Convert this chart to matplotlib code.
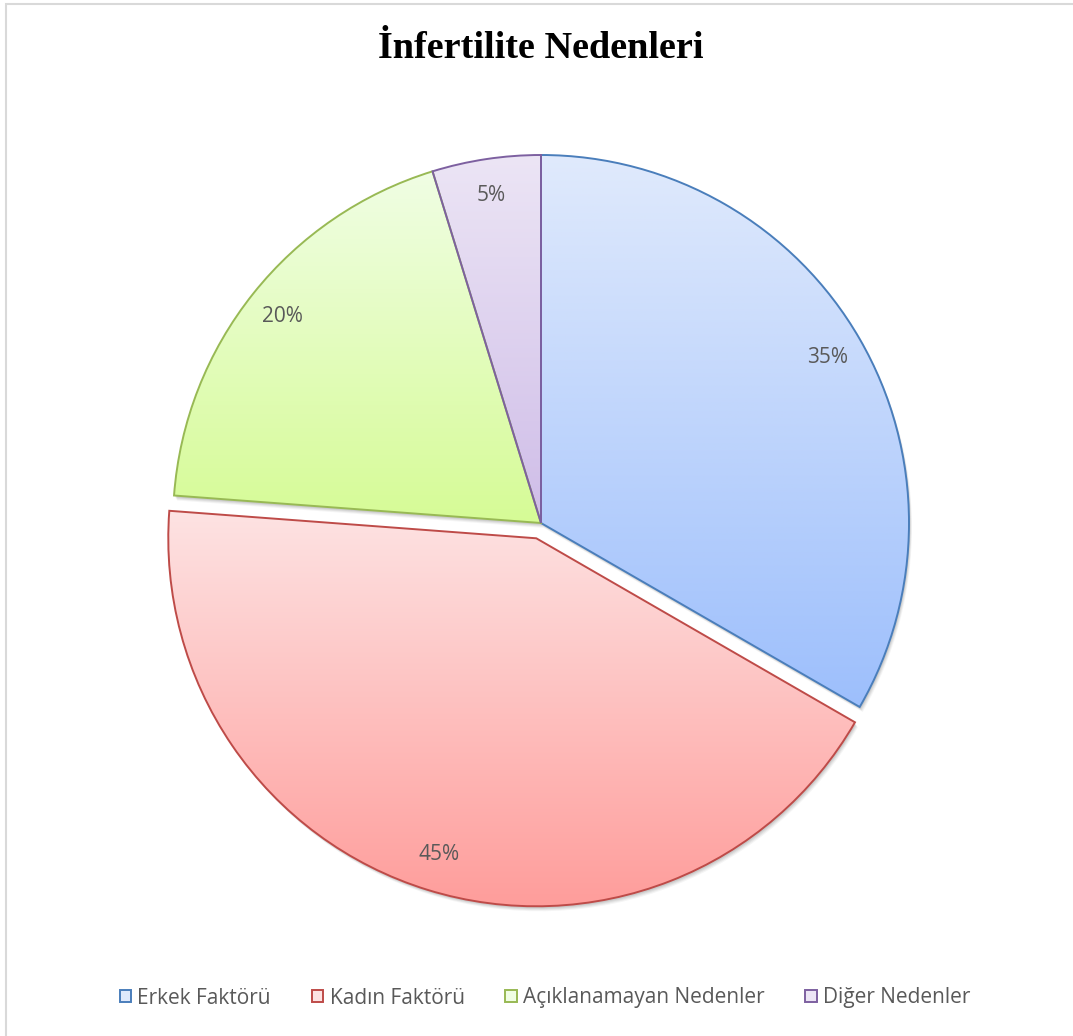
"""Infertility causes pie chart with Excel-style gradient slices."""

import matplotlib.pyplot as plt
import numpy as np
from matplotlib.colors import LinearSegmentedColormap
from matplotlib.patches import Patch, Rectangle, Wedge

labels = ["Erkek Faktörü", "Kadın Faktörü", "Açıklanamayan Nedenler", "Diğer Nedenler"]
values = [35, 45, 20, 5]
explode_px = [0, 16, 0, 0]

# light (top) / dark (bottom) gradient stops and outline colour per slice
top_colors = ["#e0eafc", "#fde3e3", "#f0fee4", "#ece5f5"]
bottom_colors = ["#9dbffc", "#ff9d9b", "#d6fb96", "#cfbde8"]
edge_colors = ["#4a7ebb", "#be4b48", "#98b954", "#7d60a0"]

W, H = 1073, 1036
CX, CY, R = 541, H - 523, 368
total = sum(values)

fig = plt.figure(figsize=(W / 100, H / 100), dpi=100)
ax = fig.add_axes([0, 0, 1, 1])

wedges, texts, autotexts = ax.pie(
    values,
    explode=explode_px,
    startangle=90,
    counterclock=False,
    center=(CX, CY),
    radius=R,
    autopct=lambda p: f"{p * total / 100:.0f}%",
    pctdistance=0.9,
    wedgeprops=dict(linewidth=1.4),
    textprops=dict(fontsize=15, color="#595959", family=["Open Sans", "DejaVu Sans"]),
)

for w, top, bot, ec in zip(wedges, top_colors, bottom_colors, edge_colors):
    # soft drop shadow
    for k, a in [(5, 0.04), (4, 0.05), (3, 0.06), (2, 0.07)]:
        sh = Wedge((w.center[0] + k * 0.6, w.center[1] - k), w.r, w.theta1, w.theta2,
                   facecolor="black", edgecolor="none", alpha=a, zorder=0.5)
        ax.add_patch(sh)
    w.set_facecolor("none")
    w.set_edgecolor(ec)
    w.set_zorder(3)
    bb = w.get_path().get_extents(w.get_patch_transform())
    cmap = LinearSegmentedColormap.from_list("g", [bot, top])
    grad = np.linspace(0, 1, 256).reshape(-1, 1)
    im = ax.imshow(grad, cmap=cmap, origin="lower", aspect="auto",
                   extent=(bb.x0, bb.x1, bb.y0, bb.y1), zorder=2, interpolation="bilinear")
    im.set_clip_path(w)

for t in autotexts:
    t.set_zorder(4)

# chart area border (only left and top edges fall inside the canvas)
ax.add_patch(Rectangle((6, -20), 1200, H - 4 + 20, facecolor="none",
                       edgecolor="#d9d9d9", linewidth=1.5, zorder=1))

ax.text(541, H - 49, "İnfertilite Nedenleri", ha="center", va="center",
        fontsize=27.5, fontweight="bold", family="Liberation Serif", color="black")

handles = [Patch(facecolor=t, edgecolor=e, linewidth=1.4) for t, e in zip(top_colors, edge_colors)]
ax.legend(handles, labels, loc="center", bbox_to_anchor=(0.508, 38 / H), ncol=4,
          frameon=False, handlelength=0.56, handleheight=0.56, handletextpad=0.3,
          columnspacing=1.95, prop=dict(family="Open Sans", size=15), labelcolor="#595959")

ax.set_xlim(0, W)
ax.set_ylim(0, H)
ax.set_aspect("auto")
ax.axis("off")

fig.savefig("out.png", dpi=100, facecolor="white")
